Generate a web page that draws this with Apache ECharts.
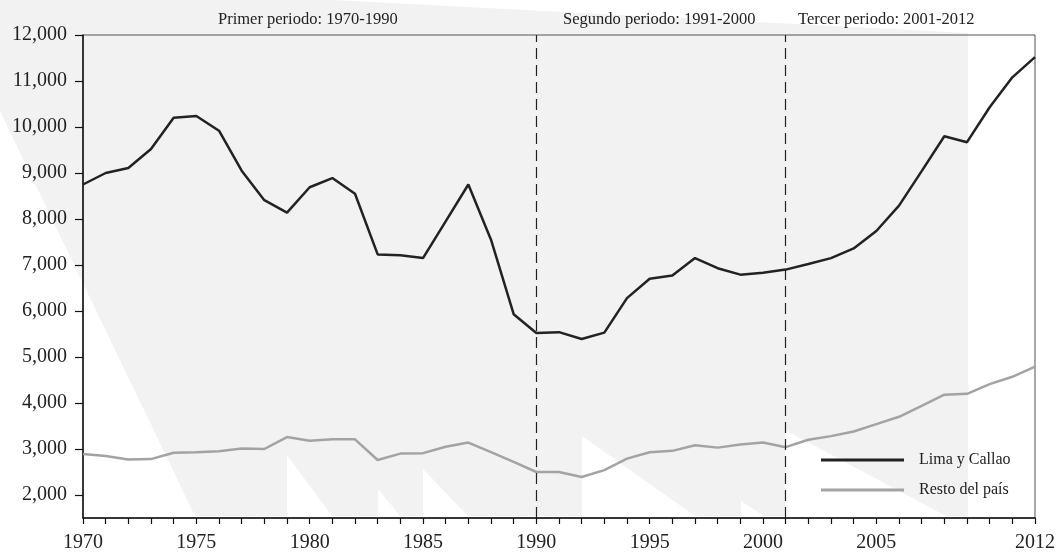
<!DOCTYPE html>
<html>
<head>
<meta charset="utf-8">
<script src="https://cdn.jsdelivr.net/npm/echarts@6/dist/echarts.min.js"></script>
<style>
  html, body { margin: 0; padding: 0; background: #fff; }
  #chart { width: 1057px; height: 552px; }
</style>
</head>
<body>
<div id="chart"></div>
<script>
// años
var years = [1970, 1971, 1972, 1973, 1974, 1975, 1976, 1977, 1978, 1979,
             1980, 1981, 1982, 1983, 1984, 1985, 1986, 1987, 1988, 1989,
             1990, 1991, 1992, 1993, 1994, 1995, 1996, 1997, 1998, 1999,
             2000, 2001, 2002, 2003, 2004, 2005, 2006, 2007, 2008, 2009,
             2010, 2011, 2012];
var limaCallao = [8750, 9000, 9110, 9520, 10200, 10240, 9920, 9050, 8410, 8140,
                  8690, 8890, 8550, 7230, 7210, 7150, 7950, 8750, 7550, 5930,
                  5520, 5540, 5390, 5530, 6280, 6700, 6770, 7150, 6930, 6790,
                  6830, 6900, 7020, 7150, 7360, 7740, 8290, 9040, 9800, 9670,
                  10430, 11080, 11520];
var restoPais = [2890, 2850, 2770, 2780, 2920, 2930, 2950, 3010, 3000, 3260,
                 3180, 3210, 3210, 2760, 2900, 2910, 3050, 3140, 2930, 2720,
                 2500, 2500, 2390, 2540, 2790, 2930, 2960, 3080, 3030, 3100,
                 3140, 3040, 3200, 3280, 3380, 3540, 3700, 3940, 4180, 4200,
                 4410, 4570, 4790];
var yLabels = [2000, 3000, 4000, 5000, 6000, 7000, 8000, 9000, 10000, 11000, 12000];
var xLabels = [1970, 1975, 1980, 1985, 1990, 1995, 2000, 2005, 2012];
var periodLines = [1990, 2001];
var periodos = ['Primer periodo: 1970-1990', 'Segundo periodo: 1991-2000', 'Tercer periodo: 2001-2012'];

var fuente = '"Liberation Serif", "DejaVu Serif", serif';

function pares(vals) {
    var out = [];
    for (var i = 0; i < years.length; i++) {
        out.push([years[i], vals[i]]);
    }
    return out;
}

// fondo gris decorativo
var fondo = [{
    type: 'polygon', z: -10, silent: true,
    shape: {points: [[0, 0], [333, 0], [968, 33], [968, 516], [195, 516], [0, 111]]},
    style: {fill: '#f2f2f2'}
}];
var triangulos = [[287, 455, 332], [378, 489, 400], [423, 469, 468], [582, 436, 695], [741, 501, 764], [785, 430, 946]];
triangulos.forEach(function (t) {
    fondo.push({
        type: 'polygon', z: -9, silent: true,
        shape: {points: [[t[0], t[1]], [t[0], 516], [t[2], 516]]},
        style: {fill: '#ffffff'}
    });
});
var posTextos = [218, 563, 798];
periodos.forEach(function (txt, i) {
    fondo.push({
        type: 'text', z: 5, left: posTextos[i], top: 11,
        style: {text: txt, font: '16.5px ' + fuente, fill: '#222'}
    });
});

var myChart = echarts.init(document.getElementById('chart'));
var option = {
    animation: false,
    backgroundColor: '#fff',
    graphic: fondo,
    grid: {
        left: 83, right: 22, top: 35, bottom: 34,
        outerBoundsMode: 'none', containLabel: false,
        show: true, borderColor: '#555', borderWidth: 1, backgroundColor: 'transparent'
    },
    legend: {
        orient: 'vertical',
        left: 816, top: 447,
        icon: 'rect',
        itemWidth: 83, itemHeight: 3,
        itemGap: 14,
        textStyle: {fontFamily: fuente, fontSize: 16, color: '#222', padding: [0, 0, 0, 10]},
        data: ['Lima y Callao', 'Resto del país']
    },
    xAxis: {
        type: 'value', min: 1970, max: 2012,
        axisLine: {lineStyle: {color: '#111', width: 1.5}},
        axisTick: {length: 6, lineStyle: {color: '#111', width: 1.2}, customValues: years},
        axisLabel: {
            customValues: xLabels, margin: 15,
            fontFamily: fuente, fontSize: 20, color: '#222',
            formatter: function (v) { return String(v); }
        },
        splitLine: {show: false}
    },
    yAxis: {
        type: 'value', min: 1500, max: 12000,
        axisLine: {show: true, lineStyle: {color: '#111', width: 1.5}},
        axisTick: {show: true, length: 8, lineStyle: {color: '#111', width: 1.2}, customValues: yLabels},
        axisLabel: {
            customValues: yLabels, margin: 16,
            fontFamily: fuente, fontSize: 20, color: '#222',
            formatter: function (v) { return v.toLocaleString('en-US'); }
        },
        splitLine: {show: false}
    },
    series: [
        {
            name: 'Lima y Callao', type: 'line', data: pares(limaCallao),
            showSymbol: false, symbol: 'none',
            lineStyle: {color: '#222', width: 2.5}, itemStyle: {color: '#222'},
            markLine: {
                silent: true, symbol: 'none', label: {show: false},
                lineStyle: {color: '#222', width: 1.2, type: [11, 6]},
                data: periodLines.map(function (x) { return {xAxis: x}; })
            }
        },
        {
            name: 'Resto del país', type: 'line', data: pares(restoPais),
            showSymbol: false, symbol: 'none',
            lineStyle: {color: '#a3a3a3', width: 2.5}, itemStyle: {color: '#a3a3a3'}
        }
    ]
};
myChart.setOption(option);
</script>
</body>
</html>
